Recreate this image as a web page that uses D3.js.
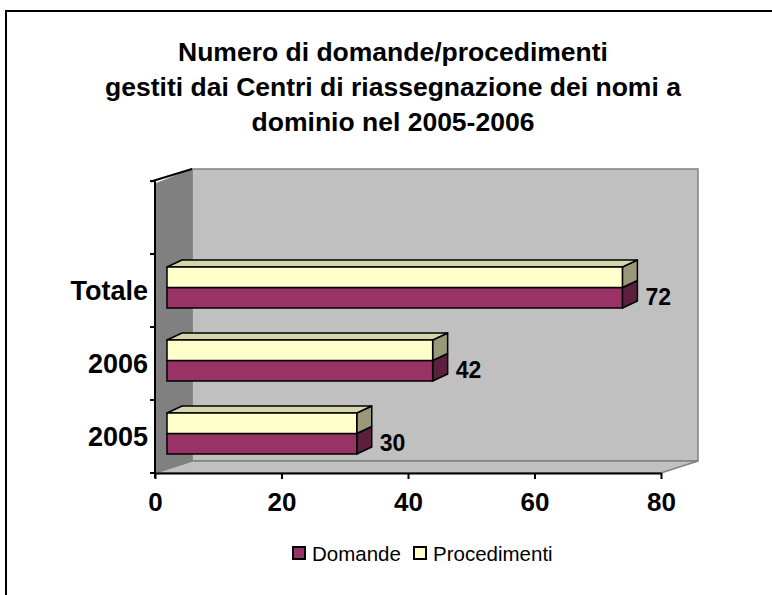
<!DOCTYPE html>
<html>
<head>
<meta charset="utf-8">
<script src="https://cdn.jsdelivr.net/npm/d3@7"></script>
<style>
  body { margin: 0; background: #fff; }
  svg { display: block; font-family: Arial, "Liberation Sans", sans-serif; }
</style>
</head>
<body>
<div id="chart"></div>
<script>
// data
const categories = ['2005', '2006', 'Totale', ''];
const domande = [30, 42, 72, null];
const procedimenti = [30, 42, 72, null];
const seriesNames = ['Domande', 'Procedimenti'];
const xTicks = [0, 20, 40, 60, 80];
const titleLines = ['Numero di domande/procedimenti',
                    'gestiti dai Centri di riassegnazione dei nomi a',
                    'dominio nel 2005-2006'];

const width = 772, height = 595;
const purple = '#993366', yellow = '#ffffcc';
const purpleSide = '#5c1f3d', yellowSide = '#99997a', yellowTop = '#d6d6ab';

// 3d offsets
const wallDx = 37, wallDy = -12;
const barDx = 15, barDy = -7;
const barShiftX = 12, barShiftY = -3;
const barH = 20.5;

const svg = d3.select('#chart').append('svg')
  .attr('width', width)
  .attr('height', height);

// outer frame
svg.append('rect')
  .attr('x', 6).attr('y', 11)
  .attr('width', width + 20).attr('height', height + 20)
  .attr('fill', '#fff')
  .attr('stroke', '#000')
  .attr('stroke-width', 2);

const x = d3.scaleLinear().domain([0, 80]).range([155, 661]);
const y = d3.scaleBand().domain(categories).range([473, 181]);

const x0 = x(0), x1 = x(80), yTop = y.range()[1], yBot = y.range()[0];

// back wall
svg.append('rect')
  .attr('x', x0 + wallDx).attr('y', yTop + wallDy)
  .attr('width', x1 - x0).attr('height', yBot - yTop)
  .attr('fill', '#c0c0c0')
  .attr('stroke', '#808080')
  .attr('stroke-width', 1.5);

// left wall
svg.append('path')
  .attr('d', `M${x0},${yTop + 3}L${x0 + wallDx},${yTop + wallDy}L${x0 + wallDx},${yBot + wallDy}L${x0},${yBot}Z`)
  .attr('fill', '#808080')
  .attr('stroke', '#808080');

// floor
svg.append('path')
  .attr('d', `M${x0},${yBot}L${x0 + wallDx},${yBot + wallDy}L${x1 + wallDx},${yBot + wallDy}L${x1},${yBot}Z`)
  .attr('fill', '#c0c0c0')
  .attr('stroke', '#808080')
  .attr('stroke-width', 1.5);

// top edge of left wall
svg.append('line')
  .attr('x1', x0 - 4).attr('y1', yTop + 0.5)
  .attr('x2', x0 + wallDx).attr('y2', yTop + wallDy)
  .attr('stroke', '#000').attr('stroke-width', 2);

// bars
const g = svg.append('g');
categories.forEach((c, i) => {
  if (domande[i] == null) return;
  const yc = y(c) + y.bandwidth() / 2 + barShiftY;
  const bx0 = x(0) + barShiftX;
  const specs = [
    { v: domande[i], top: yc, bot: yc + barH, fill: purple, side: purpleSide },
    { v: procedimenti[i], top: yc - barH, bot: yc, fill: yellow, side: yellowSide, topFace: true }
  ];
  specs.forEach(s => {
    const bx1 = x(s.v) + barShiftX;
    g.append('path')
      .attr('d', `M${bx1},${s.top}L${bx1 + barDx},${s.top + barDy}L${bx1 + barDx},${s.bot + barDy}L${bx1},${s.bot}Z`)
      .attr('fill', s.side).attr('stroke', '#000').attr('stroke-width', 1.5)
      .attr('stroke-linejoin', 'round');
    if (s.topFace) {
      g.append('path')
        .attr('d', `M${bx0},${s.top}L${bx0 + barDx},${s.top + barDy}L${bx1 + barDx},${s.top + barDy}L${bx1},${s.top}Z`)
        .attr('fill', yellowTop).attr('stroke', '#000').attr('stroke-width', 1.5)
        .attr('stroke-linejoin', 'round');
    }
    g.append('rect')
      .attr('x', bx0).attr('y', s.top)
      .attr('width', bx1 - bx0).attr('height', s.bot - s.top)
      .attr('fill', s.fill).attr('stroke', '#000').attr('stroke-width', 1.5);
  });
  // value label
  g.append('text')
    .attr('x', x(domande[i]) + barShiftX + 23)
    .attr('y', yc + 9)
    .attr('dominant-baseline', 'central')
    .attr('font-size', 23)
    .attr('font-weight', 'bold')
    .text(domande[i]);
});

// y axis
svg.append('line')
  .attr('x1', x0).attr('y1', yTop).attr('x2', x0).attr('y2', yBot + 5)
  .attr('stroke', '#000').attr('stroke-width', 2);
const yTickPos = categories.map(c => y(c) + y.bandwidth()).concat([yTop]);
svg.selectAll('.ytick')
  .data(yTickPos)
  .enter().append('line')
    .attr('class', 'ytick')
    .attr('x1', x0 - 5).attr('x2', x0)
    .attr('y1', d => d).attr('y2', d => d)
    .attr('stroke', '#000').attr('stroke-width', 2);
svg.selectAll('.ylabel')
  .data(categories)
  .enter().append('text')
    .attr('class', 'ylabel')
    .attr('x', x0 - 7)
    .attr('y', d => y(d) + y.bandwidth() / 2)
    .attr('text-anchor', 'end')
    .attr('dominant-baseline', 'central')
    .attr('font-size', 27)
    .attr('font-weight', 'bold')
    .text(d => d);

// x axis
const xAxis = svg.append('g')
  .attr('transform', `translate(0,${yBot})`)
  .call(d3.axisBottom(x).tickValues(xTicks).tickSize(6).tickPadding(14).tickSizeOuter(0));
xAxis.select('.domain').attr('stroke', '#000').attr('stroke-width', 2);
xAxis.selectAll('.tick line').attr('stroke', '#000').attr('stroke-width', 2);
xAxis.selectAll('.tick text')
  .attr('font-family', 'Arial, "Liberation Sans", sans-serif')
  .attr('font-size', 26)
  .attr('font-weight', 'bold')
  .attr('fill', '#000');

// title
svg.append('g').selectAll('text')
  .data(titleLines)
  .enter().append('text')
    .attr('x', 393)
    .attr('y', (d, i) => 52 + i * 35)
    .attr('text-anchor', 'middle')
    .attr('dominant-baseline', 'central')
    .attr('font-size', 26.5)
    .attr('font-weight', 'bold')
    .text(d => d);

// legend
const legend = svg.append('g').attr('transform', 'translate(293,547)');
const legendX = [0, 121];
seriesNames.forEach((name, i) => {
  const lg = legend.append('g').attr('transform', `translate(${legendX[i]},0)`);
  lg.append('rect')
    .attr('width', 12).attr('height', 12)
    .attr('fill', i === 0 ? purple : yellow)
    .attr('stroke', '#000').attr('stroke-width', 2);
  lg.append('text')
    .attr('x', 19).attr('y', 6.5)
    .attr('dominant-baseline', 'central')
    .attr('font-size', 20.5)
    .text(name);
});
</script>
</body>
</html>
